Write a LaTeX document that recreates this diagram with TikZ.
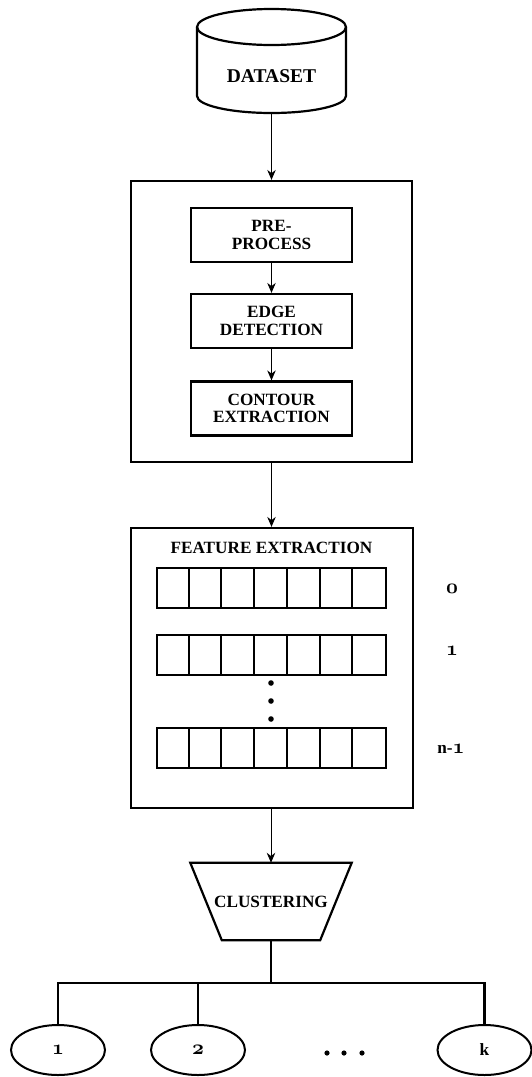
\documentclass[tikz,border=0pt]{standalone}
\usepackage{fontspec}
\setmainfont{Liberation Serif}
\usetikzlibrary{arrows.meta,shapes.geometric}
% old-style figures taken from the bold math-italic font
\newcommand\osnum[1]{{\fontsize{20.74}{22}\usefont{OML}{cmm}{b}{it}#1}}
\begin{document}
\begin{tikzpicture}[x=1pt,y=-1pt,
  txt/.style={font=\fontsize{17.2}{17.5}\selectfont\bfseries, align=center},
  bigbox/.style={draw, line width=2.2pt, inner sep=0pt},
  stepbox/.style={draw, line width=2.2pt, inner sep=0pt, minimum width=161pt, minimum height=54pt, txt},
  rowbox/.style={draw, line width=2pt, inner sep=0pt, minimum width=229pt, minimum height=40pt},
  arr/.style={-{Stealth[length=10pt,width=8.5pt]}, line width=1pt},
  bus/.style={line width=2.2pt},
  outnode/.style={draw, ellipse, line width=2pt, inner sep=0pt, minimum width=94pt, minimum height=50pt, txt},
  dot/.style={fill=black}
]
\useasboundingbox (0,0) rectangle (532,1077);

% dataset cylinder
\draw[line width=2.2pt] (197,27) -- (197,96)
  arc[start angle=180, end angle=360, x radius=74.5pt, y radius=17pt] -- (346,27);
\draw[line width=2.2pt] (271.5,27) ellipse[x radius=74.5pt, y radius=18pt];
\node[txt, font=\fontsize{19.5}{21}\selectfont\bfseries] (ds) at (271.5,76) {DATASET};
\coordinate (dsb) at (271.5,113);

% preprocessing block
\node[bigbox, minimum width=281pt, minimum height=281pt] (prep) at (271.5,321.5) {};
\node[stepbox] (pre) at (271.5,235) {PRE-\\PROCESS};
\node[stepbox] (edge) at (271.5,321) {EDGE\\DETECTION};
\node[stepbox] (cont) at (271.5,408.5) {CONTOUR\\EXTRACTION};

% feature extraction block
\node[bigbox, minimum width=282pt, minimum height=280pt] (feat) at (272,668) {};
\node[txt] (ftitle) at (271.5,548) {FEATURE EXTRACTION};
\foreach \nm/\yy in {r0/588, r1/655, rn/748} {
  \node[rowbox] (\nm) at (271.5,\yy) {};
  \foreach \k in {1,...,6}
    \draw[line width=2pt] ([xshift=\k*229pt/7]\nm.north west) -- ([xshift=\k*229pt/7]\nm.south west);
}
\node[txt] (l0) at (452,589) {\osnum{0}};
\node[txt] (l1) at (452,651) {\osnum{1}};
\node[txt] (ln) at (451,749) {n-\osnum{1}};
\foreach \yy in {683,701,719}
  \fill[dot] (271,\yy) circle[radius=2.8pt];

% clustering trapezoid
\node[txt, minimum width=161pt, minimum height=77pt, inner sep=0pt] (clu) at (271,901.5) {CLUSTERING};
\draw[line width=2.2pt] (clu.north west) -- (clu.north east)
  -- ([xshift=-31.5pt]clu.south east) -- ([xshift=31.5pt]clu.south west) -- cycle;

% output clusters
\node[outnode] (e1) at (58,1050) {\osnum{1}};
\node[outnode] (e2) at (198,1050) {\osnum{2}};
\node[outnode] (ek) at (484.5,1050) {k};
\foreach \xx in {327,344,362}
  \fill[dot] (\xx,1053) circle[radius=2.6pt];

% connectors
\draw[arr] (dsb) -- (prep.north);
\draw[arr] (pre) -- (edge);
\draw[arr] (edge) -- (cont);
\draw[arr] (prep.south) -- (feat.north -| prep.south);
\draw[arr] (feat.south -| clu.north) -- (clu.north);
\draw[bus] (clu.south) -- ++(0,43) coordinate (busc);
\draw[bus] (e1.north) |- (busc) -| (ek.north);
\draw[bus] (e2.north) -- (e2.north |- busc);
\end{tikzpicture}
\end{document}
